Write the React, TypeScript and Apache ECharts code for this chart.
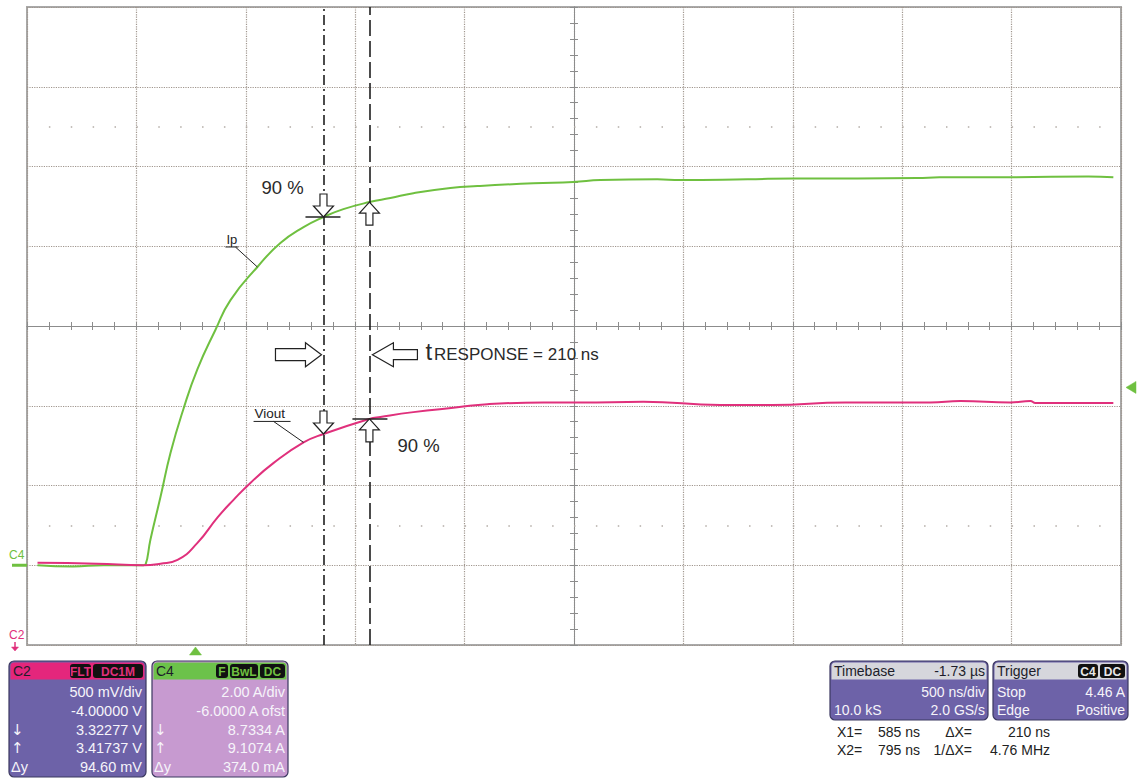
import React, { useEffect, useRef } from "react";
import * as echarts from "echarts";

// Scope settings
const TIMEBASE_DELAY_NS = 1730; // screen centre sits 1.73 µs after the trigger
const NS_PER_DIV = 500;
const X_DIVS = 10;
const Y_DIVS = 8;
const C4_A_PER_DIV = 2.0;
const C4_OFFSET_A = -6.0;
const C2_V_PER_DIV = 0.5;
const C2_OFFSET_V = -4.0;
const TRIGGER_LEVEL_A = 4.46;

// C4: primary current Ip (time in ns from trigger, amps)
const ipTimes = [
  -722, -560, -420, -238, -228, -206, -160, -114, -55, 9, 91, 160, 283, 388, 494, 585, 676, 795,
  891, 996, 1165, 1289, 1545, 1727, 1851, 2111, 2216, 2523, 2737, 3026, 3300, 3400, 3738, 4080, 4195,
];
const ipAmps = [
  0.0, -0.03, 0.0, 0.0, 0.02, 0.64, 1.71, 2.82, 3.92, 4.92, 5.9, 6.65, 7.48, 8.08, 8.48, 8.7334, 8.93,
  9.1074, 9.21, 9.33, 9.46, 9.51, 9.58, 9.61, 9.66, 9.68, 9.66, 9.68, 9.7, 9.7, 9.71, 9.73, 9.73, 9.75,
  9.73,
];

// C2: sensor output Viout (time in ns from trigger, volts)
const vioutTimes = [
  -722, -450, -238, -160, -82, 9, 101, 174, 251, 356, 494, 585, 795, 845, 996, 1197, 1334, 1590, 1759,
  2047, 2399, 2637, 2970, 3359, 3496, 3725, 3816, 3839, 4195,
];
const vioutVolts = [
  2.515, 2.51, 2.5, 2.51, 2.534, 2.64, 2.8, 2.91, 3.016, 3.14, 3.27, 3.32277, 3.41737, 3.43, 3.46,
  3.49, 3.51, 3.52, 3.52, 3.525, 3.505, 3.505, 3.52, 3.52, 3.53, 3.52, 3.53, 3.518, 3.518,
];

// Cursors X1 / X2 and the readouts at them
const cursorTimes = [585, 795];
const ipCursorAmps = [8.7334, 9.1074];
const vioutCursorVolts = [3.32277, 3.41737];

const GREEN = "#6fc040";
const PINK = "#e0307c";
const FONT = '"Liberation Sans", Arial, sans-serif';
const PANEL_BODY = "#6d62a8";
const PANEL_BODY_C4 = "#c79ad0";
const PANEL_TEXT = "#f6f4fa";

const toScreenNs = (t: number) => t - TIMEBASE_DELAY_NS;
const c4Div = (a: number) => (a + C4_OFFSET_A) / C4_A_PER_DIV;
const c2Div = (v: number) => (v + C2_OFFSET_V) / C2_V_PER_DIV;

function txt(x: number, y: number, text: string, opts: any = {}) {
  const align = opts.align || "left";
  const valign = opts.valign || "middle";
  return {
    type: "text",
    x,
    y,
    z: 120,
    silent: true,
    style: {
      text,
      fill: opts.fill || "#222",
      fontSize: opts.size || 14,
      fontFamily: opts.family || FONT,
      fontWeight: opts.weight || "normal",
      align,
      verticalAlign: valign,
      textAlign: align,
      textVerticalAlign: valign,
    },
  };
}

function line(x1: number, y1: number, x2: number, y2: number, stroke = "#222", lineWidth = 1.2) {
  return { type: "line", z: 110, silent: true, shape: { x1, y1, x2, y2 }, style: { stroke, lineWidth } };
}

function poly(points: number[][], fill = "#fff", stroke = "#222", lineWidth = 1.2) {
  return { type: "polygon", z: 110, silent: true, shape: { points }, style: { fill, stroke, lineWidth } };
}

// hollow arrows, tip at (x, y)
const arrowDown = (x: number, y: number) =>
  poly([[x, y], [x - 10, y - 11], [x - 3.5, y - 11], [x - 3.5, y - 23], [x + 3.5, y - 23], [x + 3.5, y - 11], [x + 10, y - 11]]);
const arrowUp = (x: number, y: number) =>
  poly([[x, y], [x - 10, y + 11], [x - 3.5, y + 11], [x - 3.5, y + 23], [x + 3.5, y + 23], [x + 3.5, y + 11], [x + 10, y + 11]]);
const arrowRight = (x: number, y: number) =>
  poly([[x, y], [x - 16, y - 12], [x - 16, y - 6], [x - 46, y - 6], [x - 46, y + 6], [x - 16, y + 6], [x - 16, y + 12]]);
const arrowLeft = (x: number, y: number) =>
  poly([[x, y], [x + 21, y - 12], [x + 21, y - 5], [x + 45, y - 5], [x + 45, y + 5], [x + 21, y + 5], [x + 21, y + 12]]);

function rect(x: number, y: number, w: number, h: number, fill: string, r: any = 0, stroke?: string) {
  return {
    type: "rect",
    z: 115,
    silent: true,
    shape: { x, y, width: w, height: h, r },
    style: { fill, stroke: stroke || null, lineWidth: stroke ? 1.2 : 0 },
  };
}

function badge(x: number, y: number, w: number, label: string, color: string) {
  return [rect(x, y, w, 14, "#111", 3), txt(x + w / 2, y + 7.5, label, { align: "center", size: 12, weight: "bold", fill: color })];
}

function panel(x: number, y: number, w: number, h: number, headerFill: string, bodyFill: string) {
  return [rect(x, y, w, h, bodyFill, 5, "#3b3860"), rect(x + 1.5, y + 1.5, w - 3, 17, headerFill, [4, 4, 0, 0])];
}

export default function App() {
  const ref = useRef<HTMLDivElement>(null);

  useEffect(() => {
    if (!ref.current) return;
    const chart = echarts.init(ref.current, null, { renderer: "svg" });

    const half = (X_DIVS * NS_PER_DIV) / 2;
    const ipData = ipTimes.map((t, i) => [toScreenNs(t), c4Div(ipAmps[i])]);
    const vioutData = vioutTimes.map((t, i) => [toScreenNs(t), c2Div(vioutVolts[i])]);

    const centreAxisLine = { show: true, onZero: true, lineStyle: { color: "#8c8c8c", width: 1 } };
    const centreTick = { show: true, length: 4, inside: false, lineStyle: { color: "#8c8c8c", width: 1 } };
    const centreMinor = { show: true, splitNumber: 5, length: 4, lineStyle: { color: "#8c8c8c", width: 1 } };
    const gridLine = { show: true, lineStyle: { color: "#a0968e", width: 1.2, type: "dotted" } };

    const xBase = { type: "value", min: -half, max: half, interval: NS_PER_DIV, axisLabel: { show: false } };
    const yBase = { type: "value", min: -Y_DIVS / 2, max: Y_DIVS / 2, interval: 1, axisLabel: { show: false } };

    const option: any = {
      animation: false,
      backgroundColor: "#ffffff",
      grid: {
        left: 27,
        top: 7,
        width: 1094,
        height: 638,
        show: true,
        borderColor: "#a9a9a9",
        borderWidth: 2,
        backgroundColor: "#ffffff",
      },
      xAxis: [
        { ...xBase, position: "bottom", axisLine: centreAxisLine, axisTick: centreTick, minorTick: centreMinor, splitLine: gridLine },
        { ...xBase, position: "top", axisLine: centreAxisLine, axisTick: centreTick, minorTick: centreMinor, splitLine: { show: false } },
      ],
      yAxis: [
        { ...yBase, position: "left", axisLine: centreAxisLine, axisTick: centreTick, minorTick: centreMinor, splitLine: gridLine },
        { ...yBase, position: "right", axisLine: centreAxisLine, axisTick: centreTick, minorTick: centreMinor, splitLine: { show: false } },
      ],
      series: [
        {
          name: "Ip",
          type: "line",
          data: ipData,
          showSymbol: false,
          smooth: 0.5,
          lineStyle: { color: GREEN, width: 2 },
          itemStyle: { color: GREEN },
          z: 3,
          markLine: {
            silent: true,
            symbol: ["none", "none"],
            label: { show: false },
            data: [
              { xAxis: toScreenNs(cursorTimes[0]), lineStyle: { color: "#1e1e1e", width: 1.6, type: [10, 4, 2, 4] } },
              { xAxis: toScreenNs(cursorTimes[1]), lineStyle: { color: "#1e1e1e", width: 1.6, type: [16, 5] } },
              { yAxis: 2.5, lineStyle: { color: "#b3aca6", width: 1.5, type: [1.5, 20.38] } },
              { yAxis: -2.5, lineStyle: { color: "#b3aca6", width: 1.5, type: [1.5, 20.38] } },
            ],
          },
        },
        {
          name: "Viout",
          type: "line",
          data: vioutData,
          showSymbol: false,
          smooth: 0.5,
          lineStyle: { color: PINK, width: 2 },
          itemStyle: { color: PINK },
          z: 4,
        },
      ],
    };

    chart.setOption(option);

    const px = (t: number, div: number) =>
      chart.convertToPixel({ xAxisIndex: 0, yAxisIndex: 0 }, [toScreenNs(t), div]) as number[];

    const els: any[] = [];

    // cursor crossings on both traces
    const p1 = px(cursorTimes[0], c4Div(ipCursorAmps[0]));
    const p2 = px(cursorTimes[1], c4Div(ipCursorAmps[1]));
    const q1 = px(cursorTimes[0], c2Div(vioutCursorVolts[0]));
    const q2 = px(cursorTimes[1], c2Div(vioutCursorVolts[1]));

    els.push(line(p1[0] - 18, p1[1], p1[0] + 17, p1[1], "#222", 1.4));
    els.push(arrowDown(p1[0], p1[1]));
    els.push(arrowUp(p2[0], p2[1]));
    els.push(arrowDown(q1[0], q1[1]));
    els.push(line(q2[0] - 17, q2[1], q2[0] + 18, q2[1], "#222", 1.4));
    els.push(arrowUp(q2[0], q2[1]));

    els.push(txt(p1[0] - 62, p1[1] - 30, "90 %", { size: 18.5, fill: "#2a2a2a" }));
    els.push(txt(q2[0] + 28, q2[1] + 27, "90 %", { size: 18.5, fill: "#2a2a2a" }));

    // response-time arrows between the cursors
    const yResp = px(0, -0.36)[1];
    els.push(arrowRight(p1[0] - 2, yResp));
    els.push(arrowLeft(p2[0] + 3, yResp));
    const responseNs = cursorTimes[1] - cursorTimes[0];
    const tx = p2[0] + 56;
    els.push(txt(tx, yResp + 9, "t", { size: 24, valign: "bottom", fill: "#2a2a2a" }));
    els.push(txt(tx + 8.5, yResp + 8, `RESPONSE = ${responseNs} ns`, { size: 17, valign: "bottom", fill: "#2a2a2a" }));

    // trace labels with leaders
    const a = px(283, c4Div(7.48));
    els.push(line(a[0] - 22, a[1] - 20, a[0], a[1], "#222", 1));
    els.push(line(a[0] - 32, a[1] - 20, a[0] - 19, a[1] - 20, "#222", 1));
    els.push(txt(a[0] - 31, a[1] - 21, "Ip", { size: 13, valign: "bottom", fill: "#222" }));

    const b = px(494, c2Div(3.27));
    els.push(line(b[0] - 30, b[1] - 21, b[0], b[1], "#222", 1));
    els.push(line(b[0] - 50, b[1] - 21, b[0] - 13, b[1] - 21, "#222", 1));
    els.push(txt(b[0] - 49, b[1] - 22, "Viout", { size: 13.5, valign: "bottom", fill: "#222" }));

    // trigger position / level markers
    const trig = px(0, -Y_DIVS / 2);
    els.push(poly([[trig[0], trig[1] + 2], [trig[0] - 6, trig[1] + 10], [trig[0] + 6, trig[1] + 10]], GREEN, GREEN, 0.5));
    const right = px(TIMEBASE_DELAY_NS + (X_DIVS * NS_PER_DIV) / 2, c4Div(TRIGGER_LEVEL_A));
    els.push(poly([[right[0] + 5, right[1]], [right[0] + 15, right[1] - 6], [right[0] + 15, right[1] + 6]], GREEN, GREEN, 0.5));

    // channel ground markers on the left edge
    const left = px(TIMEBASE_DELAY_NS - (X_DIVS * NS_PER_DIV) / 2, c4Div(0));
    els.push(rect(12, left[1] - 1.5, left[0] - 12, 3, GREEN));
    els.push(txt(9, left[1] - 10, "C4", { size: 12, fill: GREEN }));
    const bottom = px(0, -Y_DIVS / 2)[1];
    els.push(txt(9, bottom - 10, "C2", { size: 12, fill: PINK }));
    els.push(line(15, bottom - 3, 15, bottom + 4, PINK, 1.5));
    els.push(poly([[15, bottom + 6], [11.5, bottom + 2], [18.5, bottom + 2]], PINK, PINK, 0.5));

    // channel panels
    const rowsY = [692, 711, 730, 748, 767];
    const ARROW_FONT = '"DejaVu Sans", sans-serif';
    els.push(...panel(9, 661, 137, 116, "#e4267c", PANEL_BODY));
    els.push(txt(13, 671, "C2", { size: 14, fill: "#1d1d2a" }));
    els.push(...badge(70, 664, 21, "FLT", PINK));
    els.push(...badge(93, 664, 50, "DC1M", PINK));
    const c2Rows = [
      `${C2_V_PER_DIV * 1000} mV/div`,
      `${C2_OFFSET_V.toFixed(5)} V`,
      `${vioutCursorVolts[0].toFixed(5)} V`,
      `${vioutCursorVolts[1].toFixed(5)} V`,
      `${((vioutCursorVolts[1] - vioutCursorVolts[0]) * 1000).toFixed(2)} mV`,
    ];
    c2Rows.forEach((s, i) => els.push(txt(142, rowsY[i], s, { size: 14.5, align: "right", fill: PANEL_TEXT })));
    els.push(txt(11, rowsY[2], "↓", { size: 15, fill: PANEL_TEXT, family: ARROW_FONT }));
    els.push(txt(11, rowsY[3], "↑", { size: 15, fill: PANEL_TEXT, family: ARROW_FONT }));
    els.push(txt(11, rowsY[4], "Δy", { size: 14.5, fill: PANEL_TEXT }));

    els.push(...panel(152, 661, 136, 116, "#6cc24a", PANEL_BODY_C4));
    els.push(txt(156, 671, "C4", { size: 14, fill: "#1d1d2a" }));
    els.push(...badge(216, 664, 12, "F", GREEN));
    els.push(...badge(230, 664, 28, "BwL", GREEN));
    els.push(...badge(260, 664, 25, "DC", GREEN));
    const c4Rows = [
      `${C4_A_PER_DIV.toFixed(2)} A/div`,
      `${C4_OFFSET_A.toFixed(4)} A ofst`,
      `${ipCursorAmps[0].toFixed(4)} A`,
      `${ipCursorAmps[1].toFixed(4)} A`,
      `${((ipCursorAmps[1] - ipCursorAmps[0]) * 1000).toFixed(1)} mA`,
    ];
    c4Rows.forEach((s, i) => els.push(txt(285, rowsY[i], s, { size: 14.5, align: "right", fill: PANEL_TEXT })));
    els.push(txt(154, rowsY[2], "↓", { size: 15, fill: PANEL_TEXT, family: ARROW_FONT }));
    els.push(txt(154, rowsY[3], "↑", { size: 15, fill: PANEL_TEXT, family: ARROW_FONT }));
    els.push(txt(154, rowsY[4], "Δy", { size: 14.5, fill: PANEL_TEXT }));

    // timebase and trigger panels
    els.push(...panel(830, 661, 158, 59, "#d6d6dc", PANEL_BODY));
    els.push(txt(834, 671, "Timebase", { size: 14, fill: "#1d1d2a" }));
    els.push(txt(985, 671, `-${(TIMEBASE_DELAY_NS / 1000).toFixed(2)} µs`, { size: 14, align: "right", fill: "#1d1d2a" }));
    els.push(txt(985, 692, `${NS_PER_DIV} ns/div`, { size: 14, align: "right", fill: PANEL_TEXT }));
    els.push(txt(834, 710, "10.0 kS", { size: 14, fill: PANEL_TEXT }));
    els.push(txt(985, 710, "2.0 GS/s", { size: 14, align: "right", fill: PANEL_TEXT }));

    els.push(...panel(993, 661, 135, 59, "#d6d6dc", PANEL_BODY));
    els.push(txt(997, 671, "Trigger", { size: 14, fill: "#1d1d2a" }));
    els.push(...badge(1078, 664, 20, "C4", "#e8e8e8"));
    els.push(...badge(1100, 664, 25, "DC", "#e8e8e8"));
    els.push(txt(997, 692, "Stop", { size: 14, fill: PANEL_TEXT }));
    els.push(txt(1125, 692, `${TRIGGER_LEVEL_A.toFixed(2)} A`, { size: 14, align: "right", fill: PANEL_TEXT }));
    els.push(txt(997, 710, "Edge", { size: 14, fill: PANEL_TEXT }));
    els.push(txt(1125, 710, "Positive", { size: 14, align: "right", fill: PANEL_TEXT }));

    // cursor readouts
    const dx = cursorTimes[1] - cursorTimes[0];
    els.push(txt(837, 732, "X1=", { size: 14 }));
    els.push(txt(920, 732, `${cursorTimes[0]} ns`, { size: 14, align: "right" }));
    els.push(txt(972, 732, "ΔX=", { size: 14, align: "right" }));
    els.push(txt(1050, 732, `${dx} ns`, { size: 14, align: "right" }));
    els.push(txt(837, 750, "X2=", { size: 14 }));
    els.push(txt(920, 750, `${cursorTimes[1]} ns`, { size: 14, align: "right" }));
    els.push(txt(972, 750, "1/ΔX=", { size: 14, align: "right" }));
    els.push(txt(1050, 750, `${(1000 / dx).toFixed(2)} MHz`, { size: 14, align: "right" }));

    chart.setOption({ graphic: { elements: els } });

    return () => chart.dispose();
  }, []);

  return (
    <div
      ref={ref}
      style={{ position: "absolute", left: 0, top: 0, width: 1137, height: 779, background: "#fff" }}
    />
  );
}
